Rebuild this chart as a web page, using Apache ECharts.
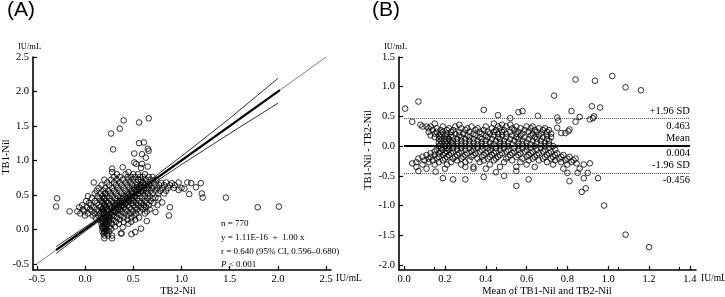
<!DOCTYPE html>
<html>
<head>
<meta charset="utf-8">
<script src="https://cdn.jsdelivr.net/npm/echarts@6/dist/echarts.min.js"></script>
<style>
  html, body { margin: 0; padding: 0; background: #fff; }
  #chart { width: 725px; height: 297px; }
</style>
</head>
<body>
<div id="chart"></div>
<script>
// ---- panel A: TB2-Nil (x) vs TB1-Nil (y), IU/mL
const aTicksX = [-0.5, 0, 0.5, 1, 1.5, 2, 2.5]
const aTicksY = [-0.5, 0, 0.5, 1, 1.5, 2, 2.5]
const aOutliers = [
  [0.40, 1.58], [0.36, 1.46], [0.27, 1.39], [0.56, 1.55], [0.66, 1.61], [0.56, 1.25], [0.61, 1.26],
  [0.65, 1.17], [0.29, 1.16], [0.51, 1.10], [0.59, 1.09], [0.66, 1.14], [0.63, 1.04], [0.51, 0.97],
  [0.53, 0.95], [0.59, 0.95], [0.65, 0.91], [0.39, 0.90], [0.58, 0.89], [0.28, 0.88], [0.28, 0.83],
  [0.45, 0.83], [-0.29, 0.45], [-0.30, 0.33], [-0.16, 0.26], [-0.08, 0.26], [-0.03, 0.35],
  [0.73, 0.46], [0.88, 0.32], [0.87, 0.20], [1.08, 0.51], [1.21, 0.52], [1.22, 0.46], [1.20, 0.67],
  [1.46, 0.46], [1.79, 0.32], [2.01, 0.33], [0.79, 0.67], [0.90, 0.67], [0.97, 0.68], [1.06, 0.68],
  [1.10, 0.67], [1.03, 0.59], [0.97, 0.57], [0.80, 0.39], [0.73, 0.25], [0.64, 0.12], [1.15, 0.61],
  [0.20, -0.13], [0.28, -0.09], [0.39, 0.03], [0.48, -0.07], [0.52, -0.04], [0.58, 0.01], [0.38, -0.06],
  [0.28, -0.13], [0.37, -0.06]
]
// rows of the main cloud: [TB1-Nil, [TB2-Nil values]]
const aRows = [
  [0.80, [0.33, 0.42, 0.50, 0.55, 0.62]],
  [0.76, [0.30, 0.36, 0.44, 0.48, 0.52, 0.57, 0.60, 0.66, 0.70]],
  [0.72, [0.20, 0.27, 0.33, 0.39, 0.45, 0.50, 0.55, 0.58, 0.63, 0.68, 0.74]],
  [0.68, [0.09, 0.23, 0.30, 0.36, 0.42, 0.47, 0.53, 0.60, 0.65, 0.71, 0.84]],
  [0.64, [0.17, 0.25, 0.32, 0.38, 0.44, 0.49, 0.54, 0.58, 0.62, 0.67, 0.73, 0.77, 0.82, 0.88, 0.93]],
  [0.60, [0.14, 0.21, 0.28, 0.34, 0.40, 0.46, 0.51, 0.56, 0.61, 0.66, 0.70, 0.75, 0.80, 0.86, 0.92, 1.00]],
  [0.56, [0.12, 0.19, 0.24, 0.30, 0.36, 0.42, 0.48, 0.53, 0.58, 0.63, 0.68, 0.73, 0.78, 0.84]],
  [0.52, [0.10, 0.16, 0.21, 0.26, 0.32, 0.38, 0.44, 0.49, 0.55, 0.60, 0.65, 0.70, 0.76, 0.82]],
  [0.48, [0.03, 0.13, 0.18, 0.23, 0.28, 0.34, 0.40, 0.46, 0.51, 0.57, 0.62, 0.67]],
  [0.45, [0.07, 0.15, 0.20, 0.25, 0.31, 0.37, 0.43, 0.48, 0.54, 0.59, 0.65, 0.70, 0.76]],
  [0.41, [0.01, 0.10, 0.17, 0.22, 0.27, 0.33, 0.39, 0.45, 0.50, 0.56, 0.62, 0.68]],
  [0.38, [0.04, 0.12, 0.19, 0.24, 0.30, 0.36, 0.42, 0.48, 0.53, 0.58, 0.64, 0.71]],
  [0.35, [0.06, 0.14, 0.20, 0.26, 0.32, 0.38, 0.44, 0.50, 0.55, 0.61, 0.66, 0.75]],
  [0.32, [-0.06, 0.02, 0.09, 0.16, 0.21, 0.28, 0.34, 0.40, 0.46, 0.52, 0.58, 0.63]],
  [0.29, [-0.02, 0.05, 0.12, 0.18, 0.23, 0.30, 0.36, 0.42, 0.48, 0.54, 0.60, 0.67]],
  [0.26, [-0.01, 0.07, 0.14, 0.19, 0.24, 0.31, 0.38, 0.44, 0.50, 0.57, 0.64]],
  [0.23, [-0.05, 0.03, 0.10, 0.16, 0.21, 0.27, 0.34, 0.41, 0.47, 0.53, 0.62]],
  [0.20, [0.00, 0.08, 0.14, 0.19, 0.24, 0.30, 0.37, 0.44, 0.51]],
  [0.17, [0.11, 0.17, 0.21, 0.26, 0.33, 0.40, 0.48, 0.56]],
  [0.14, [0.15, 0.19, 0.23, 0.29, 0.36, 0.44, 0.52]],
  [0.11, [0.18, 0.21, 0.25, 0.32, 0.40, 0.48]],
  [0.08, [0.17, 0.20, 0.23, 0.28, 0.35, 0.45]],
  [0.04, [0.18, 0.21, 0.25, 0.31]],
  [0.01, [0.19, 0.22, 0.27]],
  [-0.03, [0.18, 0.21, 0.25]],
  [-0.06, [0.19, 0.23]],
  [-0.09, [0.20, 0.24]]
]
// denser strip along the diagonal and near TB2 = 0.2
const aDense = [
  [0.18, 0.12], [0.19, 0.18], [0.20, 0.24], [0.21, 0.10], [0.22, 0.16], [0.22, 0.22], [0.23, 0.28],
  [0.24, 0.19], [0.25, 0.13], [0.26, 0.24], [0.27, 0.30], [0.28, 0.20], [0.29, 0.27], [0.30, 0.34],
  [0.31, 0.25], [0.32, 0.31], [0.33, 0.38], [0.34, 0.28], [0.35, 0.35], [0.36, 0.41], [0.37, 0.32],
  [0.38, 0.38], [0.39, 0.45], [0.40, 0.35], [0.41, 0.42], [0.42, 0.48], [0.43, 0.39], [0.44, 0.45],
  [0.45, 0.51], [0.46, 0.42], [0.47, 0.48], [0.48, 0.55], [0.49, 0.45], [0.50, 0.51], [0.51, 0.58],
  [0.52, 0.48], [0.53, 0.55], [0.54, 0.61], [0.55, 0.52], [0.56, 0.58], [0.57, 0.64], [0.58, 0.55],
  [0.59, 0.61], [0.60, 0.67], [0.61, 0.57], [0.62, 0.64], [0.64, 0.60], [0.66, 0.66],
  [0.19, 0.05], [0.21, 0.00], [0.20, -0.04], [0.22, 0.07], [0.18, 0.02], [0.23, -0.02], [0.21, 0.13],
  [0.19, 0.30], [0.17, 0.26], [0.20, 0.36], [0.22, 0.33], [0.18, 0.40], [0.20, 0.44], [0.21, 0.52]
]
const identityLine = [[-0.5, -0.5], [2.5, 2.5]]
const regLine = [[-0.3, -0.3], [2.02, 2.02]]
const ciX = [-0.3, 0, 0.4, 1.0, 1.5, 2.0]
const ciUpper = [-0.25, 0.03, 0.42, 1.06, 1.61, 2.19]
const ciLower = [-0.35, -0.03, 0.38, 0.94, 1.39, 1.83]

// ---- panel B: Bland-Altman, mean (x) vs difference (y)
const bTicksX = [0, 0.2, 0.4, 0.6, 0.8, 1.0, 1.2, 1.4]
const bTicksY = [-2.0, -1.5, -1.0, -0.5, 0, 0.5, 1.0, 1.5]
const bLimitValues = [0.463, 0.004, -0.456]
const bLimitNames = ['+1.96 SD', 'Mean', '-1.96 SD']
const bOutliers = [
  [1.02, 1.18], [0.84, 1.12], [0.935, 1.10], [1.085, 0.99], [1.16, 0.94], [0.735, 0.85], [0.07, 0.75],
  [0.92, 0.67], [0.96, 0.65], [0.005, 0.63], [0.39, 0.61], [0.58, 0.59], [0.82, 0.59], [0.56, 0.57],
  [0.46, 0.52], [0.655, 0.51], [0.93, 0.50], [0.86, 0.49], [0.75, 0.48], [0.52, 0.47], [0.925, 0.47],
  [0.91, 0.45], [0.755, 0.43], [0.84, 0.41], [0.04, 0.41], [0.75, 0.31], [0.81, 0.28], [0.805, 0.25],
  [0.77, 0.22], [0.79, 0.22],
  [0.04, -0.29], [0.845, -0.29], [0.91, -0.29], [0.07, -0.42], [0.55, -0.42], [0.155, -0.43],
  [0.45, -0.44], [0.80, -0.45], [0.85, -0.45], [0.90, -0.45], [0.49, -0.50], [0.39, -0.52],
  [0.19, -0.54], [0.88, -0.54], [0.95, -0.54], [0.24, -0.56], [0.30, -0.56], [0.61, -0.56],
  [0.81, -0.59], [0.55, -0.67], [0.89, -0.71], [0.87, -0.77], [0.98, -1.00], [1.085, -1.49], [1.20, -1.70]
]
// rows of the main cloud: [difference, [mean values]]
const bRows = [
  [0.38, [0.15, 0.44]],
  [0.36, [0.08, 0.27, 0.48, 0.52]],
  [0.33, [0.09, 0.11, 0.13, 0.19, 0.25, 0.33, 0.40, 0.46, 0.50, 0.55, 0.60, 0.63]],
  [0.30, [0.12, 0.16, 0.22, 0.28, 0.31, 0.36, 0.43, 0.47, 0.53, 0.57, 0.62, 0.66, 0.69]],
  [0.27, [0.14, 0.18, 0.21, 0.24, 0.30, 0.35, 0.39, 0.45, 0.49, 0.54, 0.59, 0.64, 0.68, 0.71]],
  [0.24, [0.12, 0.16, 0.19, 0.23, 0.27, 0.32, 0.37, 0.41, 0.44, 0.48, 0.52, 0.56, 0.61, 0.65, 0.70]],
  [0.21, [0.15, 0.18, 0.21, 0.25, 0.29, 0.34, 0.38, 0.42, 0.46, 0.50, 0.55, 0.58, 0.63, 0.67, 0.72]],
  [0.18, [0.13, 0.17, 0.20, 0.23, 0.27, 0.31, 0.35, 0.40, 0.44, 0.48, 0.53, 0.57, 0.62, 0.66, 0.70]],
  [0.15, [0.15, 0.18, 0.21, 0.24, 0.28, 0.32, 0.37, 0.41, 0.46, 0.50, 0.55, 0.59, 0.64, 0.68, 0.72]],
  [0.12, [0.17, 0.20, 0.22, 0.26, 0.30, 0.34, 0.38, 0.43, 0.47, 0.52, 0.56, 0.61, 0.65, 0.70]],
  [0.09, [0.18, 0.21, 0.24, 0.28, 0.32, 0.36, 0.40, 0.45, 0.49, 0.54, 0.58, 0.63, 0.67, 0.71]],
  [0.06, [0.17, 0.20, 0.23, 0.26, 0.30, 0.34, 0.38, 0.42, 0.47, 0.51, 0.56, 0.60, 0.65, 0.69]],
  [0.03, [0.18, 0.21, 0.24, 0.28, 0.32, 0.36, 0.40, 0.44, 0.49, 0.53, 0.58, 0.62, 0.67, 0.71]],
  [0.00, [0.17, 0.20, 0.22, 0.26, 0.30, 0.34, 0.38, 0.43, 0.47, 0.51, 0.56, 0.60, 0.64, 0.69, 0.73]],
  [-0.03, [0.18, 0.21, 0.24, 0.28, 0.32, 0.36, 0.41, 0.45, 0.49, 0.54, 0.58, 0.62, 0.67, 0.71]],
  [-0.06, [0.16, 0.19, 0.22, 0.26, 0.30, 0.34, 0.38, 0.42, 0.47, 0.51, 0.56, 0.60, 0.65, 0.69, 0.74]],
  [-0.09, [0.15, 0.18, 0.21, 0.24, 0.28, 0.33, 0.37, 0.41, 0.45, 0.50, 0.54, 0.59, 0.63, 0.68, 0.72]],
  [-0.12, [0.13, 0.17, 0.20, 0.23, 0.27, 0.31, 0.35, 0.40, 0.44, 0.48, 0.53, 0.57, 0.62, 0.66, 0.71, 0.75]],
  [-0.15, [0.11, 0.15, 0.19, 0.22, 0.26, 0.30, 0.34, 0.39, 0.43, 0.47, 0.52, 0.56, 0.61, 0.65, 0.70, 0.74, 0.78]],
  [-0.18, [0.09, 0.13, 0.17, 0.21, 0.25, 0.29, 0.33, 0.38, 0.42, 0.46, 0.51, 0.55, 0.60, 0.64, 0.69, 0.73, 0.77, 0.81]],
  [-0.21, [0.07, 0.12, 0.16, 0.20, 0.24, 0.28, 0.36, 0.41, 0.45, 0.50, 0.58, 0.63, 0.68, 0.72, 0.76, 0.80, 0.84]],
  [-0.24, [0.10, 0.14, 0.19, 0.26, 0.32, 0.39, 0.44, 0.53, 0.61, 0.66, 0.74, 0.79, 0.83]],
  [-0.27, [0.06, 0.12, 0.17, 0.23, 0.30, 0.37, 0.49, 0.57, 0.70, 0.77, 0.82]],
  [-0.31, [0.09, 0.15, 0.21, 0.28, 0.42, 0.60, 0.73, 0.80, 0.88]],
  [-0.35, [0.06, 0.30, 0.34, 0.47, 0.55, 0.64]],
  [-0.38, [0.11, 0.20, 0.34, 0.40, 0.78, 0.86]]
]

const serif = '"Liberation Serif", "Times New Roman", serif'

function rowsToPoints (rows) {
  let pts = []
  rows.forEach(function (r) {
    r[1].forEach(function (x) { pts.push([x, r[0]]) })
  })
  return pts
}
const aPoints = aOutliers.concat(rowsToPoints(aRows), aDense)
const bPoints = bOutliers.concat(rowsToPoints(bRows))

const circle = {
  type: 'scatter',
  symbol: 'circle',
  symbolSize: 5.6,
  silent: true,
  itemStyle: { color: 'rgba(255,255,255,0)', borderColor: '#000', borderWidth: 1 }
}

function valueAxis (idx, min, max, ticks, extra) {
  return Object.assign({
    type: 'value',
    gridIndex: idx,
    min: min,
    max: max,
    axisLine: { onZero: false, lineStyle: { color: '#000', width: 1.6 } },
    axisTick: { inside: true, length: 4, customValues: ticks, lineStyle: { color: '#000', width: 1.2 } },
    axisLabel: {
      customValues: ticks,
      formatter: function (v) { return v.toFixed(1) },
      color: '#000',
      fontFamily: serif,
      fontSize: 10.5,
      margin: 4
    },
    splitLine: { show: false }
  }, extra || {})
}

function plainLine (xIdx, data, color, width, dashed) {
  return {
    type: 'line',
    xAxisIndex: xIdx,
    yAxisIndex: xIdx,
    data: data,
    symbol: 'none',
    silent: true,
    animation: false,
    lineStyle: { color: color, width: width, type: dashed ? 'dotted' : 'solid' }
  }
}

// mark lines for the limits of agreement: one for the name above, one for the value below
let limitMarks = []
bLimitValues.forEach(function (v, i) {
  let style = i === 1
    ? { color: '#000', width: 2, type: 'solid' }
    : { color: '#666', width: 1, type: 'dotted' }
  limitMarks.push([
    { coord: [0, v], lineStyle: style, label: { formatter: bLimitNames[i], position: 'insideEndTop' } },
    { coord: [1.4, v] }
  ])
  limitMarks.push([
    { coord: [0, v], lineStyle: style, label: { formatter: v.toFixed(3), position: 'insideEndBottom' } },
    { coord: [1.4, v] }
  ])
})

const chart = echarts.init(document.getElementById('chart'), null, { renderer: 'canvas' })
chart.setOption({
  animation: false,
  backgroundColor: '#fff',
  grid: [
    { left: 33, top: 57, width: 298, height: 213 },
    { left: 399, top: 57, width: 297, height: 213 }
  ],
  xAxis: [
    valueAxis(0, -0.54, 2.55, aTicksX),
    valueAxis(1, -0.025, 1.43, bTicksX, {
      minorTick: { show: true, splitNumber: 2, length: 3, lineStyle: { color: '#000' } }
    })
  ],
  yAxis: [
    valueAxis(0, -0.59, 2.5, aTicksY),
    valueAxis(1, -2.085, 1.5, bTicksY)
  ],
  series: [
    Object.assign({}, circle, { xAxisIndex: 0, yAxisIndex: 0, data: aPoints }),
    plainLine(0, identityLine, '#808080', 1),
    plainLine(0, ciX.map(function (x, i) { return [x, ciUpper[i]] }), '#333', 1),
    plainLine(0, ciX.map(function (x, i) { return [x, ciLower[i]] }), '#333', 1),
    plainLine(0, regLine, '#000', 2.2),
    Object.assign({}, circle, {
      xAxisIndex: 1,
      yAxisIndex: 1,
      data: bPoints,
      markLine: {
        silent: true,
        symbol: 'none',
        animation: false,
        label: { color: '#000', fontFamily: serif, fontSize: 10.5, distance: [0, 2] },
        data: limitMarks
      }
    })
  ],
  graphic: [
    { type: 'text', left: 7, top: 0, style: { text: '(A)', font: '21px "Liberation Sans", Arial, sans-serif', fill: '#000' } },
    { type: 'text', left: 372, top: 0, style: { text: '(B)', font: '21px "Liberation Sans", Arial, sans-serif', fill: '#000' } },
    { type: 'text', left: 18, top: 42, style: { text: 'IU/mL', font: '8.5px ' + serif, fill: '#000' } },
    { type: 'text', left: 384, top: 42, style: { text: 'IU/mL', font: '8.5px ' + serif, fill: '#000' } },
    { type: 'text', left: 336, top: 273, style: { text: 'IU/mL', font: '9.5px ' + serif, fill: '#000' } },
    { type: 'text', left: 701, top: 273, style: { text: 'IU/mL', font: '9.5px ' + serif, fill: '#000' } },
    { type: 'text', x: 178, y: 291, style: { text: 'TB2-Nil', font: '10.5px ' + serif, fill: '#000', align: 'center', verticalAlign: 'middle' } },
    { type: 'text', x: 547, y: 291, style: { text: 'Mean of TB1-Nil and TB2-Nil', font: '10.5px ' + serif, fill: '#000', align: 'center', verticalAlign: 'middle' } },
    { type: 'text', x: 6, y: 157, rotation: Math.PI / 2, style: { text: 'TB1-Nil', font: '10.5px ' + serif, fill: '#000', align: 'center', verticalAlign: 'middle' } },
    { type: 'text', x: 368, y: 150, rotation: Math.PI / 2, style: { text: 'TB1-Nil - TB2-Nil', font: '10.5px ' + serif, fill: '#000', align: 'center', verticalAlign: 'middle' } },
    {
      type: 'text',
      left: 221,
      top: 217,
      style: {
        text: 'n = 770\ny = 1.11E-16  +  1.00 x\nr = 0.640 (95% CI, 0.596\u20130.680)\n{i|P} < 0.001',
        font: '9px ' + serif,
        lineHeight: 13.7,
        fill: '#000',
        rich: { i: { fontStyle: 'italic', fontFamily: serif, fontSize: 9 } }
      }
    }
  ]
})
</script>
</body>
</html>
